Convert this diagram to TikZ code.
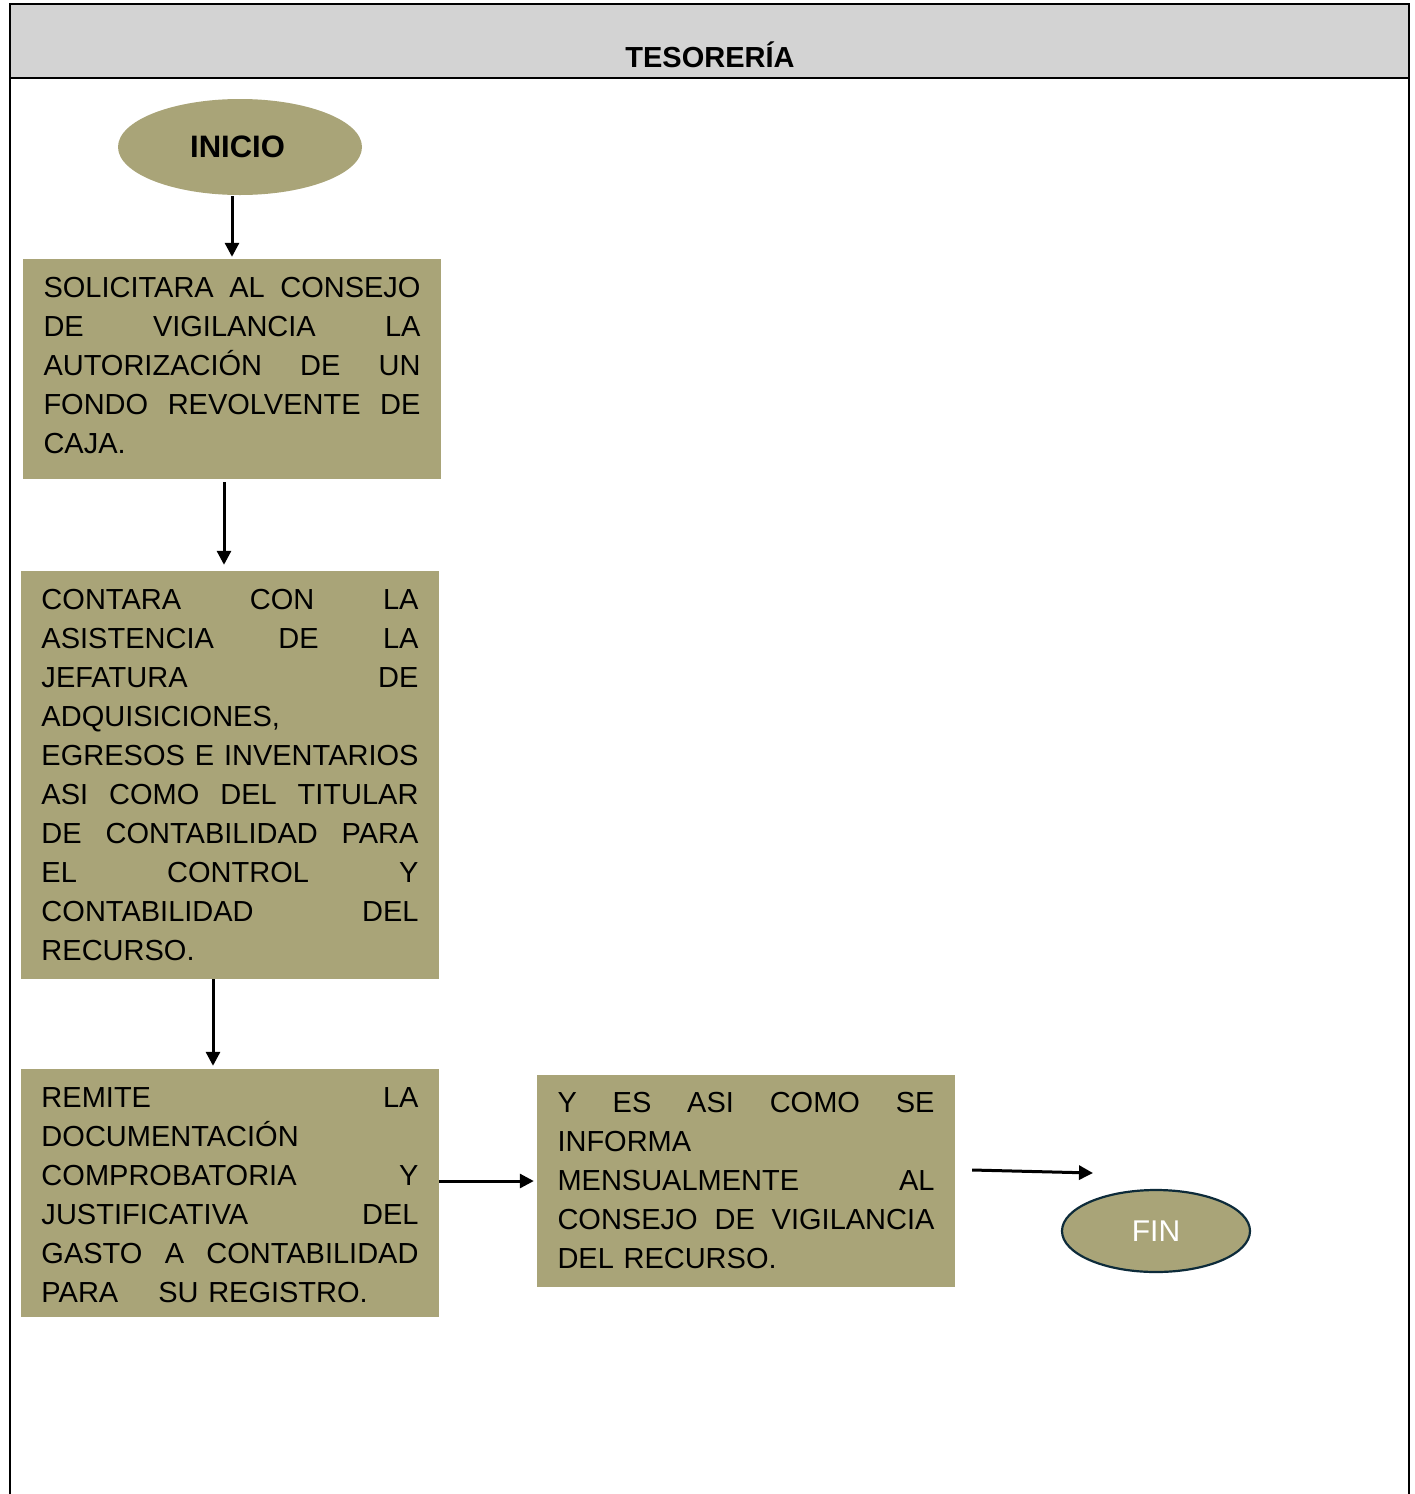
\documentclass[tikz,border=0pt]{standalone}
\usepackage{fontspec}
\setmainfont{Liberation Sans}
\usetikzlibrary{arrows.meta,shapes.geometric}
\definecolor{olive}{HTML}{A9A478}
\definecolor{hdr}{HTML}{D3D3D3}
\definecolor{finline}{HTML}{0D2B3A}
\newcommand\jl[1]{\hbox to 377pt{#1}}
\tikzset{
  procbox/.style={rectangle, fill=olive, inner sep=0pt, minimum width=418pt, text width=377pt,
    font=\fontsize{29}{39}\selectfont, align=left},
  flowarrow/.style={line width=3pt, -{Triangle[length=14pt,width=14pt]}},
  frameline/.style={line width=2.6pt, black}
}
\begin{document}
\begin{tikzpicture}[x=1pt,y=-1pt]
\useasboundingbox (0,0) rectangle (1415,1494);
% header
\fill[hdr] (10,4) rectangle (1409,78);
\draw[frameline] (10,1494) -- (10,4) -- (1409,4) -- (1409,1494);
\draw[frameline] (10,78) -- (1409,78);
\node[font=\fontsize{29}{34}\bfseries\selectfont] (hdrtext) at (710,55) {TESORERÍA};
% start
\node[ellipse, fill=olive, minimum width=244pt, minimum height=96pt, inner sep=0pt,
  font=\fontsize{31}{36}\bfseries\selectfont] (inicio) at (240,147) {\hspace*{-5pt}INICIO};
% boxes
\node[procbox, minimum height=220pt] (b1) at (232,369) {%
\jl{SOLICITARA\hfill AL\hfill CONSEJO}
\jl{DE\hfill VIGILANCIA\hfill LA}
\jl{AUTORIZACIÓN\hfill DE\hfill UN}
\jl{FONDO\hfill REVOLVENTE\hfill DE}
\jl{CAJA.\hfill}\par\kern6pt};
\node[procbox, minimum height=408pt] (b2) at (230,775) {%
\jl{CONTARA\hfill CON\hfill LA}
\jl{ASISTENCIA\hfill DE\hfill LA}
\jl{JEFATURA\hfill DE}
\jl{ADQUISICIONES,\hfill}
\jl{EGRESOS\hfill E\hfill INVENTARIOS}
\jl{ASI\hfill COMO\hfill DEL\hfill TITULAR}
\jl{DE\hfill CONTABILIDAD\hfill PARA}
\jl{EL\hfill CONTROL\hfill Y}
\jl{CONTABILIDAD\hfill DEL}
\jl{RECURSO.\hfill}};
\node[procbox, minimum height=248pt] (b3) at (230,1193) {%
\jl{REMITE\hfill LA}
\jl{DOCUMENTACIÓN\hfill}
\jl{COMPROBATORIA\hfill Y}
\jl{JUSTIFICATIVA\hfill DEL}
\jl{GASTO\hfill A\hfill CONTABILIDAD}
\jl{PARA\hspace{40pt}SU REGISTRO.\hfill}\par\kern-4pt};
\node[procbox, minimum height=212pt] (b4) at (746,1181) {%
\jl{Y\hfill ES\hfill ASI\hfill COMO\hfill SE}
\jl{INFORMA\hfill}
\jl{MENSUALMENTE\hfill AL}
\jl{CONSEJO\hfill DE\hfill VIGILANCIA}
\jl{DEL RECURSO.\hfill}};
% end
\node[ellipse, fill=olive, draw=finline, line width=2.2pt, minimum width=188pt, minimum height=82pt,
  inner sep=0pt, text=white, font=\fontsize{30}{36}\selectfont] (fin) at (1156,1231) {FIN};
\coordinate (finend) at (1093,1173);
% connectors
\draw[flowarrow, shorten >=2pt, shorten <=1pt] (inicio.south -| b1.north) -- (b1.north);
\draw[flowarrow, shorten >=6pt, shorten <=3pt] ([xshift=-8pt]b1.south) -- ([xshift=-6pt]b2.north);
\draw[flowarrow, shorten >=3pt, shorten <=0pt] ([xshift=-17pt]b2.south) -- ([xshift=-17pt]b3.north);
\draw[flowarrow, shorten >=3pt] (b4.west -| b3.east) -- (b4.west);
\draw[flowarrow] ([xshift=17pt,yshift=11pt]b4.east) -- (finend);
\end{tikzpicture}
\end{document}
